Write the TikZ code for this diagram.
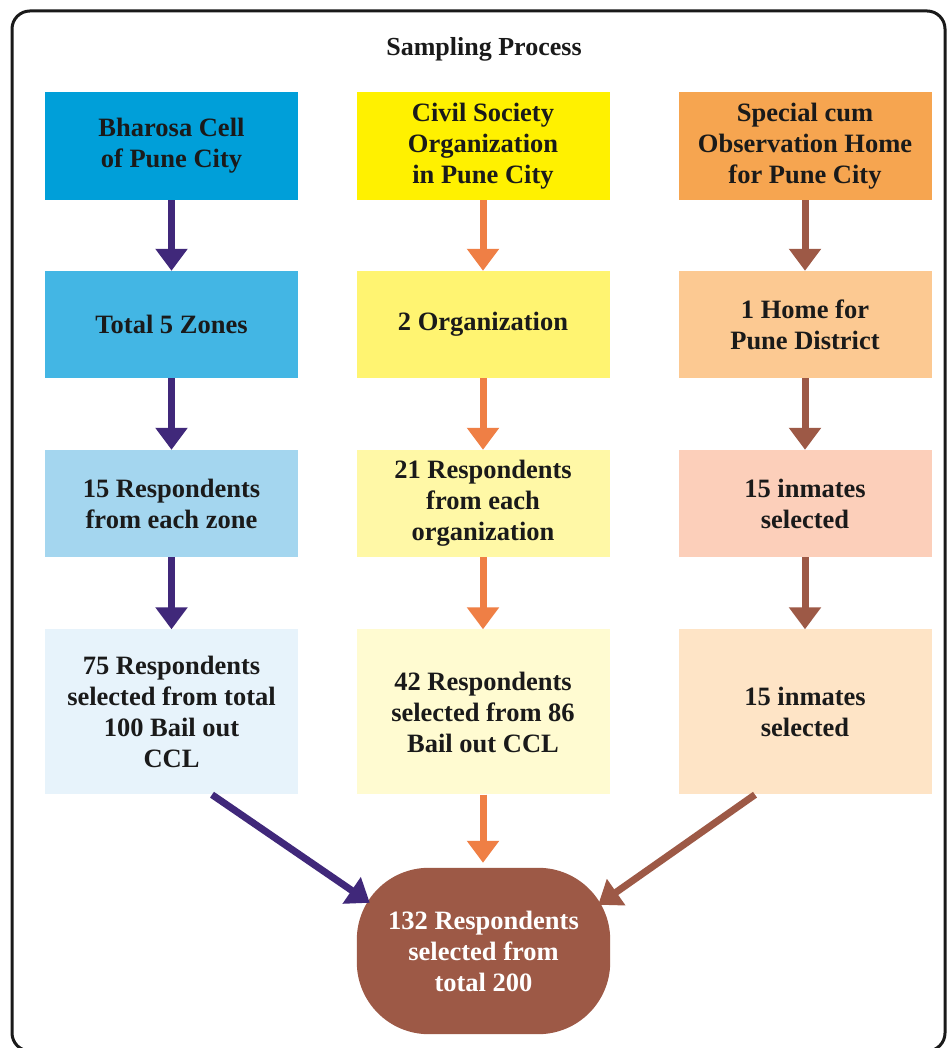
\documentclass[tikz,border=0pt]{standalone}
\usepackage{fontspec}
\setmainfont{Liberation Serif}
\usetikzlibrary{arrows.meta}
\definecolor{bA}{HTML}{009FD9}
\definecolor{bB}{HTML}{43B6E4}
\definecolor{bC}{HTML}{A4D6EF}
\definecolor{bD}{HTML}{E7F3FB}
\definecolor{yA}{HTML}{FFF100}
\definecolor{yB}{HTML}{FFF471}
\definecolor{yC}{HTML}{FFF8A6}
\definecolor{yD}{HTML}{FFFBD1}
\definecolor{oA}{HTML}{F6A550}
\definecolor{oB}{HTML}{FCC992}
\definecolor{oC}{HTML}{FCCFBA}
\definecolor{oD}{HTML}{FEE4C6}
\definecolor{purp}{HTML}{40287A}
\definecolor{orng}{HTML}{EF7F45}
\definecolor{brwn}{HTML}{9D5946}
\definecolor{txt}{HTML}{1A1A1A}
\begin{document}
\begin{tikzpicture}[x=1pt,y=1pt,
  box/.style={rectangle, inner sep=0pt, minimum width=253pt, align=center, text=txt,
    font=\fontsize{26.5}{31}\selectfont\bfseries},
  rowa/.style={box, minimum height=108pt},
  rowb/.style={box, minimum height=107pt},
  rowd/.style={box, minimum height=165pt},
  arr/.style={line width=7pt, -{Triangle[width=31pt,length=22pt]}},
]
\useasboundingbox (0,0) rectangle (947,1048);
\fill[white] (0,0) rectangle (947,1048);
\draw[line width=3pt, rounded corners=18pt, color=txt] (12,1037) rectangle (945,-3);

\node[font=\fontsize{26}{31}\selectfont\bfseries, text=txt] (title) at (484,999) {Sampling Process};

% column 1
\node[rowa, fill=bA] (c1r1) at (171.5,902) {Bharosa Cell\\of Pune City};
\node[rowb, fill=bB] (c1r2) at (171.5,723.5) {Total 5 Zones};
\node[rowb, fill=bC] (c1r3) at (171.5,544.5) {15 Respondents\\from each zone};
\node[rowd, fill=bD] (c1r4) at (171.5,336) {75 Respondents\\selected from total\\100 Bail out\\CCL};

% column 2
\node[rowa, fill=yA] (c2r1) at (483,902) {Civil Society\\Organization\\in Pune City};
\node[rowb, fill=yB] (c2r2) at (483,723.5) {2 Organization};
\node[rowb, fill=yC] (c2r3) at (483,544.5) {21 Respondents\\from each\\organization};
\node[rowd, fill=yD] (c2r4) at (483,336) {42 Respondents\\selected from 86\\Bail out CCL};

% column 3
\node[rowa, fill=oA] (c3r1) at (805,902) {Special cum\\Observation Home\\for Pune City};
\node[rowb, fill=oB] (c3r2) at (805,723.5) {1 Home for\\Pune District};
\node[rowb, fill=oC] (c3r3) at (805,544.5) {15 inmates\\selected};
\node[rowd, fill=oD] (c3r4) at (805,336) {15 inmates\\selected};

% result
\node[rectangle, inner sep=0pt, minimum width=253pt, minimum height=166pt] (res) at (483.5,97) {};
\fill[brwn] ([xshift=72pt]res.north west) -- ([xshift=-72pt]res.north east)
  arc[start angle=90, end angle=0, x radius=72pt, y radius=72pt]
  -- ([yshift=72pt]res.south east)
  arc[start angle=0, end angle=-90, x radius=72pt, y radius=72pt]
  -- ([xshift=72pt]res.south west)
  arc[start angle=270, end angle=180, x radius=72pt, y radius=72pt]
  -- ([yshift=-72pt]res.north west)
  arc[start angle=180, end angle=90, x radius=72pt, y radius=72pt]
  -- cycle;
\node[align=center, text=white, font=\fontsize{26.5}{31}\selectfont\bfseries] (restext) at (res.center) {132 Respondents\\selected from\\total 200};

% arrows
\draw[arr, purp] (c1r1) -- (c1r2);
\draw[arr, purp] (c1r2) -- (c1r3);
\draw[arr, purp] (c1r3) -- (c1r4);
\draw[arr, orng] (c2r1) -- (c2r2);
\draw[arr, orng] (c2r2) -- (c2r3);
\draw[arr, orng] (c2r3) -- (c2r4);
\draw[arr, brwn] (c3r1) -- (c3r2);
\draw[arr, brwn] (c3r2) -- (c3r3);
\draw[arr, brwn] (c3r3) -- (c3r4);

\draw[arr, purp] ([xshift=40.5pt]c1r4.south) -- ([xshift=13pt,yshift=-35pt]res.north west);
\draw[arr, orng, shorten >=5pt] (c2r4.south) -- (res.north -| c2r4.south);
\draw[arr, brwn] ([xshift=-50pt]c3r4.south) -- ([xshift=-12pt,yshift=-37pt]res.north east);
\end{tikzpicture}
\end{document}
